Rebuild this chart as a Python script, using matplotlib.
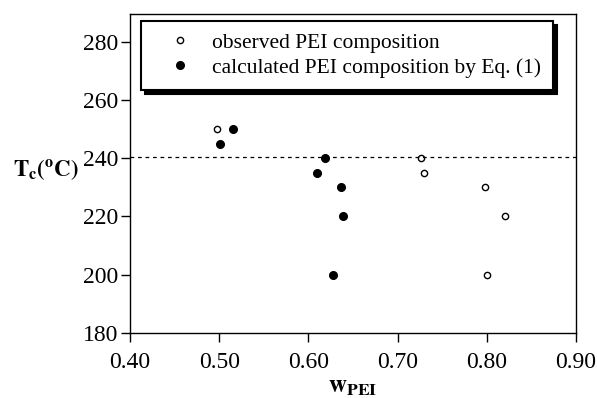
import matplotlib.pyplot as plt
import numpy as np

plt.rcParams['font.family'] = ['Liberation Serif', 'DejaVu Serif']
plt.rcParams['mathtext.fontset'] = 'stix'

# observed PEI composition (open circles)
w_obs = [0.497, 0.726, 0.730, 0.798, 0.820, 0.800]
tc_obs = [250, 240, 235, 230, 220, 200]
# calculated PEI composition by Eq. (1) (filled circles)
w_calc = [0.516, 0.501, 0.619, 0.610, 0.637, 0.639, 0.628]
tc_calc = [250, 245, 240, 235, 230, 220, 200]
tc_line = 240.3

xticks = [0.40, 0.50, 0.60, 0.70, 0.80, 0.90]
yticks = [180, 200, 220, 240, 260, 280]

fig = plt.figure(figsize=(5.97, 3.98), dpi=100)
ax = fig.add_axes([0.2178, 0.1633, 0.7470, 0.8015])

ax.plot(w_obs, tc_obs, 'o', mfc='white', mec='black', mew=1.0, ms=4.5,
        label='observed PEI composition')
ax.plot(w_calc, tc_calc, 'o', color='black', ms=5.5,
        label='calculated PEI composition by Eq. (1)')
ax.axhline(tc_line, color='black', lw=0.9, ls=(0, (3, 3)))

ax.set_xlim(0.40, 0.90)
ax.set_ylim(180, 289.5)
ax.set_xticks(xticks)
ax.set_xticklabels(['%.2f' % v for v in xticks])
ax.set_yticks(yticks)
ax.tick_params(direction='out', length=6.5, width=1, labelsize=17)
ax.tick_params(axis='y', pad=2)
ax.tick_params(axis='x', pad=7)
for s in ax.spines.values():
    s.set_linewidth(1.0)

# legend with a solid black drop shadow
leg = ax.legend(loc='upper left', bbox_to_anchor=(0.025, 0.978), borderaxespad=0,
                fontsize=15.5, frameon=True, fancybox=False, handletextpad=0.23,
                labelspacing=0.22, borderpad=0.55, handlelength=2.5,
                shadow={'color': 'black', 'alpha': 1.0, 'ox': 3, 'oy': -3})
leg.get_frame().set_edgecolor('black')
leg.get_frame().set_linewidth(1.5)

fig.text(0.022, 0.575, r'$\mathbf{T}_{\mathbf{c}}\mathbf{(^{o}C)}$', fontsize=16.5,
         ha='left', va='center')
fig.text(0.59, 0.0, r'$\mathbf{w}_{\mathbf{PEI}}$', fontsize=18,
         ha='center', va='bottom')

fig.savefig('out.png', dpi=100)
